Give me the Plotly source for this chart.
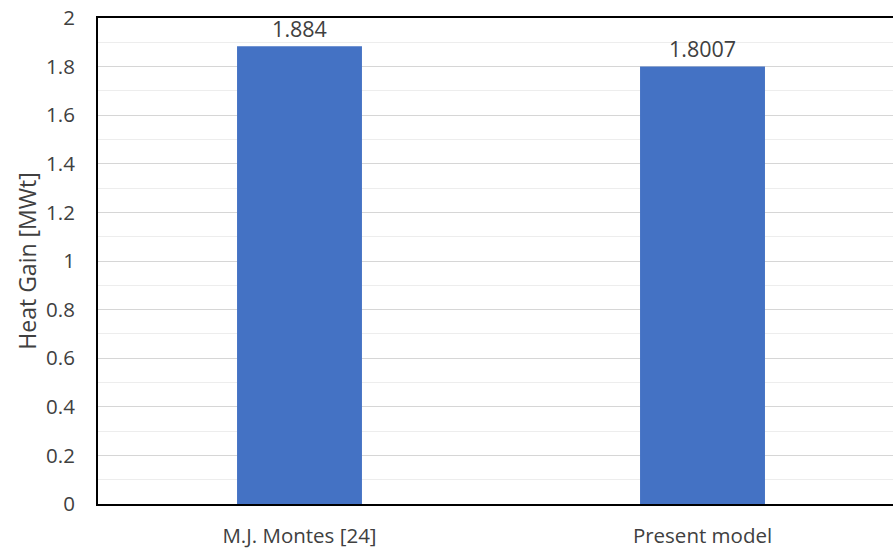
import plotly.graph_objects as go

# Heat gain comparison data
categories = ["M.J. Montes [24]", "Present model"]
heat_gain = [1.884, 1.8007]
value_labels = ["1.884", "1.8007"]
y_ticks = [0, 0.2, 0.4, 0.6, 0.8, 1, 1.2, 1.4, 1.6, 1.8, 2]

FONT = "Open Sans"
TEXT = "#404040"
x_pos = list(range(len(categories)))

fig = go.Figure(
    go.Bar(
        x=x_pos,
        y=heat_gain,
        width=0.31,
        marker=dict(color="#4472c4", line=dict(width=0)),
        text=value_labels,
        textposition="outside",
        textfont=dict(family=FONT, size=21.5, color=TEXT),
        cliponaxis=False,
    )
)

fig.update_layout(
    width=893,
    height=549,
    margin=dict(l=98, r=0, t=18, b=45),
    paper_bgcolor="white",
    plot_bgcolor="white",
    showlegend=False,
    font=dict(family=FONT, size=20, color=TEXT),
)

fig.update_xaxes(
    range=[-0.5, 1.5 - 11 / 403],
    tickmode="array",
    tickvals=x_pos,
    ticktext=categories,
    tickfont=dict(family=FONT, size=20.5, color=TEXT),
    showgrid=False,
    zeroline=False,
    showline=True,
    linecolor="black",
    linewidth=2,
    mirror=True,
    ticks="",
    ticklabelstandoff=12,
)

fig.update_yaxes(
    range=[0, 2],
    tickmode="array",
    tickvals=y_ticks,
    ticktext=[f"{v:g}" for v in y_ticks],
    tickfont=dict(family=FONT, size=20.5, color=TEXT),
    title=dict(text="Heat Gain [MWt]", font=dict(family=FONT, size=23, color=TEXT), standoff=3),
    showgrid=True,
    gridcolor="#d6d6d6",
    gridwidth=1,
    minor=dict(dtick=0.1, showgrid=True, gridcolor="#ededed", gridwidth=1),
    zeroline=False,
    showline=True,
    linecolor="black",
    linewidth=2,
    ticks="",
    ticklabelstandoff=17,
)

fig.write_html("out.html")
